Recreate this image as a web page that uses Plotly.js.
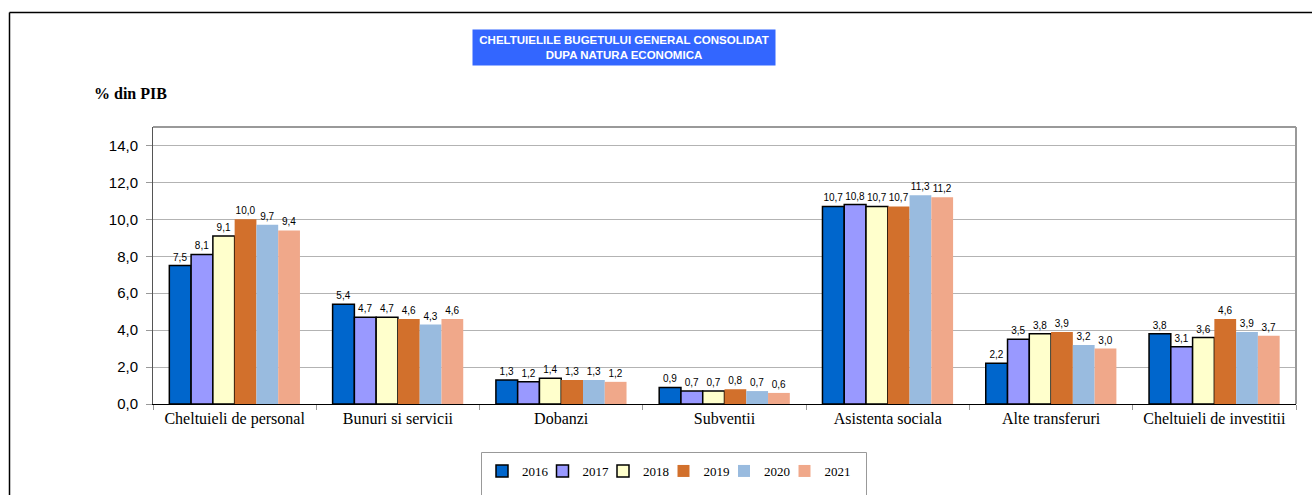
<!DOCTYPE html>
<html>
<head>
<meta charset="utf-8">
<script src="https://cdn.plot.ly/plotly-3.0.1.min.js"></script>
<style>html,body{margin:0;padding:0;background:#fff;}#chart{width:1312px;height:495px;}</style>
</head>
<body>
<div id="chart"></div>
<script>
const categories = ["Cheltuieli de personal", "Bunuri si servicii", "Dobanzi", "Subventii", "Asistenta sociala", "Alte transferuri", "Cheltuieli de investitii"];
const years = ["2016", "2017", "2018", "2019", "2020", "2021"];
const v2016 = [7.5, 5.4, 1.3, 0.9, 10.7, 2.2, 3.8];
const v2017 = [8.1, 4.7, 1.2, 0.7, 10.8, 3.5, 3.1];
const v2018 = [9.1, 4.7, 1.4, 0.7, 10.7, 3.8, 3.6];
const v2019 = [10.0, 4.6, 1.3, 0.8, 10.7, 3.9, 4.6];
const v2020 = [9.7, 4.3, 1.3, 0.7, 11.3, 3.2, 3.9];
const v2021 = [9.4, 4.6, 1.2, 0.6, 11.2, 3.0, 3.7];
const yTickVals = [0, 2, 4, 6, 8, 10, 12, 14];

const series = [v2016, v2017, v2018, v2019, v2020, v2021];
const colors = ["#0066CC", "#9999FF", "#FFFFCC", "#D2702C", "#99BBDF", "#F0A88A"];
const outlined = [true, true, true, false, false, false];

// layout geometry (pixels)
const W = 1312, H = 495, L = 153, R = 16, T = 127, B = 91;
const pw = W - L - R, ph = H - T - B;
const px = x => (x - L) / pw;
const py = y => (H - B - y) / ph;

const traces = series.map((vals, i) => ({
  type: "bar",
  name: years[i],
  x: categories,
  y: vals,
  marker: {color: colors[i], line: {color: outlined[i] ? "#000" : colors[i], width: outlined[i] ? 1.5 : 0}},
  texttemplate: "%{y:.1f}",
  textposition: "outside",
  textfont: {family: "Liberation Sans, Arial", size: 10, color: "#000"},
  cliponaxis: false,
  hoverinfo: "x+y+name"
}));
// invisible spacer entry so the last legend label is not clipped
traces.push({
  type: "scatter", mode: "lines", name: " ",
  x: [categories[0]], y: [null],
  line: {width: 0, color: "rgba(0,0,0,0)"},
  hoverinfo: "skip", showlegend: true
});

const layout = {
  width: W, height: H,
  margin: {l: L, r: R, t: T, b: B, pad: 0, autoexpand: false},
  paper_bgcolor: "#fff", plot_bgcolor: "#fff",
  separators: ", ",
  barmode: "group",
  bargap: 0.2,
  bargroupgap: 0,
  showlegend: true,
  legend: {
    orientation: "h",
    xref: "container", yref: "container",
    x: 482 / W, xanchor: "left",
    y: 1 - 456 / H, yanchor: "top",
    font: {family: "Liberation Serif, Times New Roman", size: 13, color: "#000"},
    bgcolor: "rgba(0,0,0,0)",
    borderwidth: 0,
    entrywidth: 15.5,
    itemwidth: 30,
    traceorder: "normal"
  },
  xaxis: {
    type: "category",
    showgrid: false,
    showline: true, linecolor: "#000", linewidth: 1,
    ticks: "outside", tickson: "boundaries", ticklen: 5, tickcolor: "#999",
    tickfont: {family: "Liberation Serif, Times New Roman", size: 16, color: "#000"},
    fixedrange: true
  },
  yaxis: {
    range: [0, 15],
    tickvals: yTickVals,
    tickformat: ".1f",
    showgrid: true, gridcolor: "#b3b3b3", gridwidth: 1,
    zeroline: false,
    showline: true, linecolor: "#555", linewidth: 1,
    ticks: "outside", ticklen: 6, tickcolor: "#999",
    ticklabelstandoff: 5,
    tickfont: {family: "Liberation Sans, Arial", size: 15, color: "#000"},
    fixedrange: true
  },
  shapes: [
    // plot area frame (top & right)
    {type: "line", xref: "paper", yref: "paper", x0: 0, x1: 1, y0: 1, y1: 1, line: {color: "#999", width: 2}},
    {type: "line", xref: "paper", yref: "paper", x0: 1, x1: 1, y0: 0, y1: 1, line: {color: "#999", width: 2}},
    // outer frame
    {type: "line", xref: "paper", yref: "paper", x0: px(9.5), x1: px(1320), y0: py(12.5), y1: py(12.5), line: {color: "#000", width: 1.5}},
    {type: "line", xref: "paper", yref: "paper", x0: px(9.5), x1: px(9.5), y0: py(12.5), y1: py(500), line: {color: "#000", width: 1.5}},
    // legend box
    {type: "rect", xref: "paper", yref: "paper", x0: px(481.5), x1: px(866.5), y0: py(452.5), y1: py(505), line: {color: "#999", width: 1}, fillcolor: "rgba(0,0,0,0)"}
  ],
  annotations: [
    {
      xref: "paper", yref: "paper", x: px(624), y: py(48), xanchor: "center", yanchor: "middle",
      text: "<b>CHELTUIELILE BUGETULUI GENERAL CONSOLIDAT<br>DUPA NATURA ECONOMICA</b>",
      showarrow: false, bgcolor: "#3366FF", width: 300, height: 33,
      font: {family: "Liberation Sans, Arial", size: 11.5, color: "#fff"}
    },
    {
      xref: "paper", yref: "paper", x: px(92), y: py(93), xanchor: "left", yanchor: "middle",
      text: "<b>% din PIB</b>", showarrow: false,
      font: {family: "Liberation Serif, Times New Roman", size: 16, color: "#000"}
    }
  ]
};

Plotly.newPlot("chart", traces, layout, {displayModeBar: false, staticPlot: true});
</script>
</body>
</html>
